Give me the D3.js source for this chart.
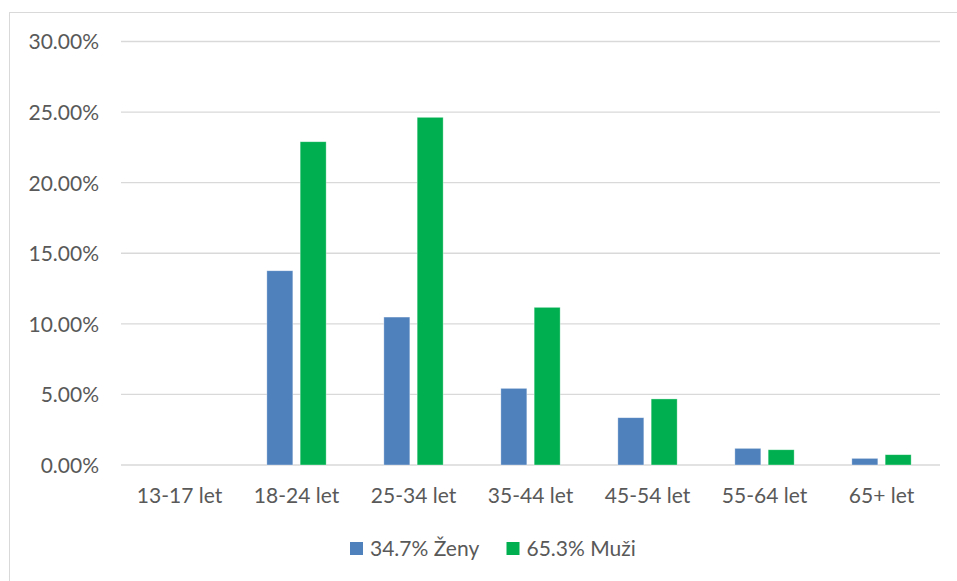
<!DOCTYPE html>
<html><head><meta charset="utf-8">
<script src="https://cdn.jsdelivr.net/npm/d3@7"></script>
<style>
html,body{margin:0;padding:0;background:#fff;}
svg{display:block;}
text{font-family:Lato,"Open Sans",sans-serif;fill:#595959;}
</style></head>
<body>
<script>
const categories = ["13-17 let","18-24 let","25-34 let","35-44 let","45-54 let","55-64 let","65+ let"];
const zeny = [0, 13.76, 10.48, 5.43, 3.35, 1.18, 0.47];
const muzi = [0, 22.90, 24.63, 11.17, 4.68, 1.08, 0.73];
const seriesNames = ["34.7% Ženy", "65.3% Muži"];
const seriesColors = ["#4F81BD", "#00B050"];
const yTicks = [0, 5, 10, 15, 20, 25, 30];

(function(){
const W = 957, H = 581;
const svg = d3.select("body").append("svg").attr("width", W).attr("height", H);

// outer frame
svg.append("rect").attr("x", 9.5).attr("y", 12.5).attr("width", 960).attr("height", 600)
  .attr("fill", "none").attr("stroke", "#d9d9d9").attr("stroke-width", 1);

const pLeft = 121, pRight = 940, pTop = 41.5, pBottom = 465;
const x = d3.scaleBand().domain(categories).range([pLeft, pRight]).paddingInner(0).paddingOuter(0);
const y = d3.scaleLinear().domain([0, 30]).range([pBottom, pTop]);

// gridlines
svg.append("g").selectAll("line").data(yTicks).join("line")
  .attr("x1", pLeft).attr("x2", pRight)
  .attr("y1", d => y(d)).attr("y2", d => y(d))
  .attr("stroke", "#d9d9d9").attr("stroke-width", 1.3);

const fs = "21px";
// y axis labels
const yAxis = d3.axisLeft(y).tickValues(yTicks).tickSize(0).tickPadding(0)
  .tickFormat(d => d.toFixed(2) + "%");
const ya = svg.append("g").attr("transform", `translate(99,0)`).call(yAxis);
ya.select(".domain").remove();
ya.selectAll("text").style("font-size", fs).style("font-family", "Lato").attr("fill", "#595959").attr("dy", "0.35em");

// bars
const barW = 26, gap = 7.3;
const series = [zeny, muzi];
series.forEach((vals, si) => {
  svg.append("g").selectAll("rect").data(vals.map((v, i) => ({v, c: categories[i]}))).join("rect")
    .attr("x", d => x(d.c) + x.bandwidth()/2 + (si === 0 ? -gap/2 - barW : gap/2))
    .attr("width", barW)
    .attr("y", d => y(d.v))
    .attr("height", d => y(0) - y(d.v))
    .attr("fill", seriesColors[si])
    .attr("stroke", "#fff").attr("stroke-opacity", 0.5).attr("stroke-width", 0.7);
});

// x axis labels
const xAxis = d3.axisBottom(x).tickSize(0).tickPadding(0);
const xa = svg.append("g").attr("transform", `translate(0,${pBottom})`).call(xAxis);
xa.select(".domain").remove();
xa.selectAll("text").style("font-size", fs).style("font-family", "Lato").attr("fill", "#595959").attr("dy", null).attr("y", 38);

// legend
const legendX = [350, 506.5];
const lg = svg.append("g");
seriesNames.forEach((n, i) => {
  lg.append("rect").attr("x", legendX[i]).attr("y", 542).attr("width", 13).attr("height", 13).attr("fill", seriesColors[i]);
  lg.append("text").attr("x", legendX[i] + 20).attr("y", 556).style("font-size", fs).text(n);
});
})();
</script>
</body></html>
